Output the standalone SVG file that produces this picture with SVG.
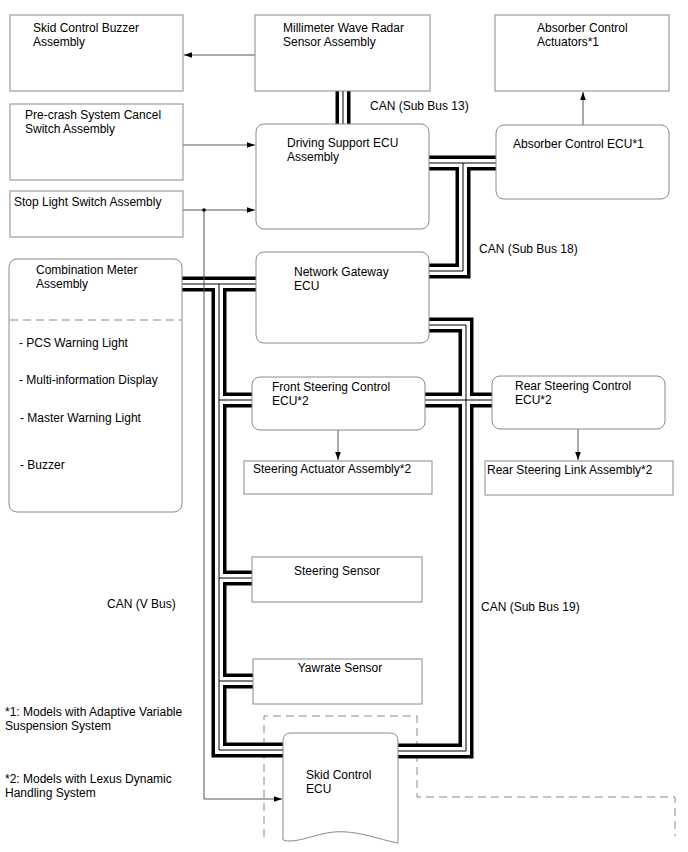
<svg xmlns="http://www.w3.org/2000/svg" xmlns:xlink="http://www.w3.org/1999/xlink" width="688" height="852" viewBox="0 0 688 852">
<style>
text{font-family:"Liberation Sans",Arial,sans-serif;font-size:12px;fill:#000}
.box{fill:#fff;stroke:#8a8a8a;stroke-width:1}
.ln{fill:none;stroke:#555;stroke-width:1}
.dash{fill:none;stroke:#8a8a8a;stroke-width:1;stroke-dasharray:8 5}
.bk{fill:none;stroke:#000;stroke-width:15;stroke-linejoin:miter}
.wh{fill:none;stroke:#fff;stroke-width:8;stroke-linejoin:miter}
.ct{fill:none;stroke:#000;stroke-width:1;stroke-linejoin:miter}
</style>
<defs>
<marker id="arr" viewBox="0 0 10 10" refX="10" refY="5" markerWidth="8" markerHeight="8" markerUnits="userSpaceOnUse" orient="auto"><path d="M0,1.5 L10,5 L0,8.5 z" fill="#000"/></marker>
<path id="b13" d="M343,91 V124"/>
<path id="b18a" d="M429,163 H496"/>
<path id="b18b" d="M463,163 V271 H429"/>
<path id="bv1" d="M182,284 H256"/>
<path id="bv2" d="M219,284 V750 H283"/>
<path id="bv3" d="M219,400 H252"/>
<path id="bv4" d="M219,578 H252"/>
<path id="bv5" d="M219,681 H253"/>
<path id="b19a" d="M429,325 H466 V751 H398"/>
<path id="b19b" d="M425,400 H492"/>
</defs>
<rect width="688" height="852" fill="#fff"/>

<path class="dash" d="M264,837 V716 H417 V797 H675 V836"/>

<g id="connectors">
<g class="bk"><use xlink:href="#b13"/><use xlink:href="#b18a"/><use xlink:href="#b18b"/><use xlink:href="#bv1"/><use xlink:href="#bv2"/><use xlink:href="#bv3"/><use xlink:href="#bv4"/><use xlink:href="#bv5"/><use xlink:href="#b19a"/><use xlink:href="#b19b"/></g>
<g class="wh"><use xlink:href="#b13"/><use xlink:href="#b18a"/><use xlink:href="#b18b"/><use xlink:href="#bv1"/><use xlink:href="#bv2"/><use xlink:href="#bv3"/><use xlink:href="#bv4"/><use xlink:href="#bv5"/><use xlink:href="#b19a"/><use xlink:href="#b19b"/></g>
<g class="ct"><use xlink:href="#b13"/><use xlink:href="#b18a"/><use xlink:href="#b18b"/><use xlink:href="#bv1"/><use xlink:href="#bv2"/><use xlink:href="#bv3"/><use xlink:href="#bv4"/><use xlink:href="#bv5"/><use xlink:href="#b19a"/><use xlink:href="#b19b"/></g>
<path class="ln" d="M255,55 H184" marker-end="url(#arr)"/>
<path class="ln" d="M183,145 H255" marker-end="url(#arr)"/>
<path class="ln" d="M183,210 H255" marker-end="url(#arr)"/>
<path class="ln" d="M204,210 V799 H282" marker-end="url(#arr)"/>
<circle cx="204" cy="210" r="1.8" fill="#000"/>
<path class="ln" d="M583,125 V92" marker-end="url(#arr)"/>
<path class="ln" d="M338,430 V460" marker-end="url(#arr)"/>
<path class="ln" d="M578,429 V460" marker-end="url(#arr)"/>
<text x="370" y="110">CAN (Sub Bus 13)</text>
<text x="479" y="253">CAN (Sub Bus 18)</text>
<text x="481" y="611">CAN (Sub Bus 19)</text>
<text x="107" y="608">CAN (V Bus)</text>
</g>

<g id="skid-buzzer"><rect class="box" x="10" y="15" width="173" height="76"/><text x="33" y="32">Skid Control Buzzer</text><text x="33" y="46">Assembly</text></g>
<g id="radar"><rect class="box" x="255" y="15" width="175" height="76"/><text x="283" y="32">Millimeter Wave Radar</text><text x="283" y="46">Sensor Assembly</text></g>
<g id="absorber-actuators"><rect class="box" x="495" y="15" width="174" height="76"/><text x="537" y="32">Absorber Control</text><text x="537" y="46">Actuators*1</text></g>
<g id="precrash"><rect class="box" x="10" y="104" width="173" height="76"/><text x="25" y="119">Pre-crash System Cancel</text><text x="25" y="133">Switch Assembly</text></g>
<g id="stoplight"><rect class="box" x="10" y="191" width="173" height="46"/><text x="14" y="206">Stop Light Switch Assembly</text></g>
<g id="driving-support"><rect class="box" x="256" y="124" width="173" height="105" rx="8"/><text x="287" y="147">Driving Support ECU</text><text x="287" y="161">Assembly</text></g>
<g id="absorber-ecu"><rect class="box" x="496" y="125" width="173" height="74" rx="8"/><text x="513" y="148">Absorber Control ECU*1</text></g>
<g id="combination-meter"><rect class="box" x="9" y="259" width="173" height="253" rx="8"/><path class="dash" d="M10,320 H182"/><text x="36" y="274">Combination Meter</text><text x="36" y="288">Assembly</text><text x="19" y="347">- PCS Warning Light</text><text x="19" y="384">- Multi-information Display</text><text x="20" y="422">- Master Warning Light</text><text x="20" y="469">- Buzzer</text></g>
<g id="gateway"><rect class="box" x="256" y="252" width="173" height="91" rx="8"/><text x="294" y="276">Network Gateway</text><text x="294" y="290">ECU</text></g>
<g id="front-steering"><rect class="box" x="252" y="377" width="173" height="53" rx="8"/><text x="272" y="391">Front Steering Control</text><text x="272" y="405">ECU*2</text></g>
<g id="rear-steering"><rect class="box" x="492" y="376" width="173" height="53" rx="8"/><text x="515" y="390">Rear Steering Control</text><text x="515" y="404">ECU*2</text></g>
<g id="steering-actuator"><rect class="box" x="244" y="461" width="188" height="33"/><text x="253" y="473">Steering Actuator Assembly*2</text></g>
<g id="rear-link"><rect class="box" x="485" y="461" width="188" height="34"/><text x="487" y="474">Rear Steering Link Assembly*2</text></g>
<g id="steering-sensor"><rect class="box" x="252" y="557" width="170" height="45"/><text x="337" y="575" text-anchor="middle">Steering Sensor</text></g>
<g id="yawrate-sensor"><rect class="box" x="253" y="659" width="169" height="45"/><text x="340" y="672" text-anchor="middle">Yawrate Sensor</text></g>
<g id="skid-ecu"><path class="box" d="M283,741 Q283,733 291,733 H390 Q398,733 398,741 V843 C372,838 350,827 322,834 C303,839 292,843 283,840 Z"/><text x="306" y="779">Skid Control</text><text x="306" y="793">ECU</text></g>

<g id="notes"><text x="5" y="716">*1: Models with Adaptive Variable</text><text x="5" y="730">Suspension System</text><text x="5" y="783">*2: Models with Lexus Dynamic</text><text x="5" y="797">Handling System</text></g>
</svg>
